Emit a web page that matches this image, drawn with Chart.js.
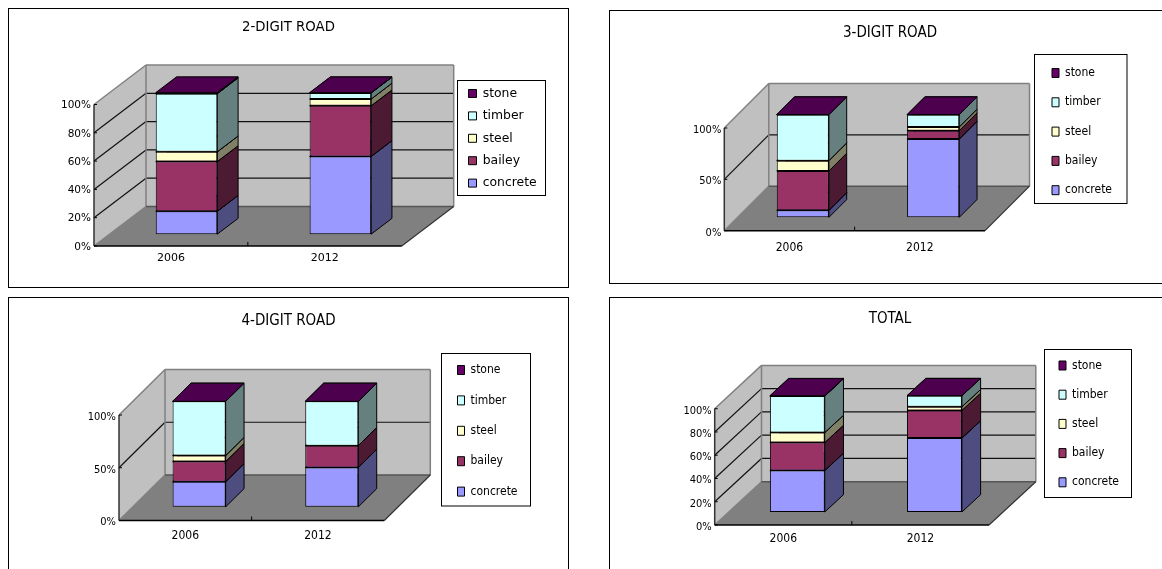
<!DOCTYPE html>
<html>
<head>
<meta charset="utf-8">
<title>Bridge type share by road class</title>
<script src="https://cdn.jsdelivr.net/npm/chart.js@4/dist/chart.umd.min.js"></script>
<style>
  html, body { margin: 0; padding: 0; background: #fff; width: 1162px; height: 569px; overflow: hidden; }
  .panel { position: absolute; box-sizing: border-box; border: 1px solid #000; background: #fff; }
  .panel canvas { position: absolute; left: -1px; top: -1px; }
</style>
</head>
<body>
<script>
// Survey years and bridge types, bottom of the stack first.
const categories = ['2006', '2012'];
const seriesNames = ['concrete', 'bailey', 'steel', 'timber', 'stone'];
const seriesColors = ['#9999FF', '#993366', '#FFFFCC', '#CCFFFF', '#660066'];
const sideColors = ['#4D4D80', '#4D1A33', '#808066', '#668080', '#330033'];
const topColors = ['#7373BF', '#732650', '#BFBF99', '#99BFBF', '#4D004D'];

// Share of bridges in percent: one row per bridge type, one column per year.
const twoDigitValues = [[16.2, 54.9], [35.1, 35.8], [6.9, 4.8], [41.1, 4.3], [0.7, 0.2]];
const threeDigitValues = [[6.8, 76.2], [38.3, 8.2], [10.1, 3.6], [44.8, 12.0], [0, 0]];
const fourDigitValues = [[23.8, 37.3], [19.1, 20.7], [5.7, 0], [51.4, 42.0], [0, 0]];
const totalValues = [[35.7, 63.6], [24.0, 23.7], [8.6, 3.2], [31.4, 9.5], [0.3, 0]];

const wide = "'DejaVu Sans', sans-serif";
const narrow = "'DejaVu Sans Condensed', 'Liberation Sans', sans-serif";

// Frame and plot geometry of each panel, in page pixels.
const panels = [
  { title: '2-DIGIT ROAD', values: twoDigitValues, step: 20,
    frame: [8, 8, 561, 280], plot: [94, 104.5, 401.7, 246], depth: [52, 39.5],
    titleY: 27.5, titleFont: [wide, 13.3], tickFont: [wide, 10.5], tickShift: 1, catFont: [wide, 11], catPad: 6,
    legendFont: [wide, 12.4], legendBox: [457.5, 80.5, 88, 115], legendMark: [468.5, 93.5], legendStep: 22.4, mark: [8, 8] },
  { title: '3-DIGIT ROAD', values: threeDigitValues, step: 50,
    frame: [609, 10, 562, 274], plot: [724.3, 128, 985, 230.7], depth: [44.5, 44.5],
    titleY: 33, titleFont: [narrow, 15], tickFont: [narrow, 11], tickShift: 2, catFont: [narrow, 12], catPad: 9.5,
    legendFont: [narrow, 12], legendBox: [1034.5, 54.5, 92.5, 149], legendMark: [1052, 73], legendStep: 29.3, mark: [7, 9] },
  { title: '4-DIGIT ROAD', values: fourDigitValues, step: 50,
    frame: [8, 297, 561, 290], plot: [119, 415, 384.3, 520.5], depth: [46, 45.5],
    titleY: 321, titleFont: [narrow, 15], tickFont: [narrow, 11], tickShift: 2, catFont: [narrow, 12], catPad: 8,
    legendFont: [narrow, 12], legendBox: [441.5, 353.5, 89, 152.5], legendMark: [457.5, 370], legendStep: 30.4, mark: [7, 9] },
  { title: 'TOTAL', values: totalValues, step: 20,
    frame: [609, 297, 562, 290], plot: [714.7, 408.7, 989, 525], depth: [46.8, 43.3],
    titleY: 319, titleFont: [narrow, 15], tickFont: [narrow, 11], tickShift: 2, catFont: [narrow, 12], catPad: 6.5,
    legendFont: [narrow, 12], legendBox: [1044.5, 349.5, 87, 148], legendMark: [1059, 365.5], legendStep: 29.2, mark: [7, 9] }
];

const WALL = '#C0C0C0', FLOOR = '#808080', EDGE = '#808080', INK = '#111';

function polygon(ctx, pts, fill, stroke, width) {
  ctx.beginPath();
  pts.forEach((p, i) => i ? ctx.lineTo(p[0], p[1]) : ctx.moveTo(p[0], p[1]));
  ctx.closePath();
  if (fill) { ctx.fillStyle = fill; ctx.fill(); }
  if (stroke) { ctx.strokeStyle = stroke; ctx.lineWidth = width || 1; ctx.stroke(); }
}

function segment(ctx, a, b, color, width) {
  ctx.beginPath();
  ctx.moveTo(a[0], a[1]);
  ctx.lineTo(b[0], b[1]);
  ctx.strokeStyle = color;
  ctx.lineWidth = width;
  ctx.stroke();
}

// Fake-3D box: walls, floor and gridlines follow the y scale, the side and top
// faces of the bars follow the bar elements, and the library draws the fronts.
const boxPlugin = {
  id: 'box3d',
  afterLayout(chart, args, opts) {
    const c = opts.cfg;
    const legend = chart.legend, title = chart.titleBlock;
    const size = c.legendFont[1];
    const pad = c.legendStep - size;
    legend.update(400, 400, { left: 0, right: 0, top: 0, bottom: 0 });
    const w = legend.width, h = legend.height;
    legend.left = c.legendMark[0] - c.frame[0] - pad;
    legend.right = legend.left + w;
    legend.top = c.legendMark[1] - c.frame[1] - size / 2 - pad;
    legend.bottom = legend.top + h;
    // The title is centred on the whole frame, not on the plot.
    title.left = 0;
    title.right = chart.width;
    title.width = chart.width;
  },
  beforeDraw(chart, args, opts) {
    const c = opts.cfg, ctx = chart.ctx;
    const b = c.legendBox;
    ctx.save();
    ctx.fillStyle = '#fff';
    ctx.strokeStyle = '#000';
    ctx.lineWidth = 1;
    ctx.fillRect(b[0] - c.frame[0], b[1] - c.frame[1], b[2], b[3]);
    ctx.strokeRect(b[0] - c.frame[0], b[1] - c.frame[1], b[2], b[3]);
    ctx.restore();
  },
  beforeDatasetsDraw(chart, args, opts) {
    const c = opts.cfg, ctx = chart.ctx;
    const { left: L, right: R, top: T, bottom: B } = chart.chartArea;
    const [dx, dy] = c.depth;
    const yScale = chart.scales.y, xScale = chart.scales.x;

    ctx.save();
    ctx.lineJoin = 'miter';
    polygon(ctx, [[L, B], [L + dx, B - dy], [L + dx, T - dy], [L, T]], WALL);
    polygon(ctx, [[L + dx, B - dy], [R + dx, B - dy], [R + dx, T - dy], [L + dx, T - dy]], WALL);
    polygon(ctx, [[L, B], [R, B], [R + dx, B - dy], [L + dx, B - dy]], FLOOR);

    yScale.ticks.forEach((t, i) => {
      const y = yScale.getPixelForTick(i);
      if (t.value === 0 || t.value === yScale.max) return;
      segment(ctx, [L, y], [L + dx, y - dy], INK, 1.2);
      segment(ctx, [L + dx, y - dy], [R + dx, y - dy], INK, 1.2);
    });

    segment(ctx, [L, T], [L + dx, T - dy], EDGE, 1.5);
    segment(ctx, [L + dx, T - dy], [R + dx, T - dy], EDGE, 1.5);
    segment(ctx, [R + dx, T - dy], [R + dx, B - dy], EDGE, 1.5);
    segment(ctx, [L + dx, T - dy], [L + dx, B - dy], EDGE, 1.5);
    segment(ctx, [L, B], [L + dx, B - dy], EDGE, 1.5);
    segment(ctx, [L + dx, B - dy], [R + dx, B - dy], '#555', 1.5);
    segment(ctx, [R, B], [R + dx, B - dy], '#333', 1.2);
    segment(ctx, [L, T], [L, B], '#333', 1.5);
    segment(ctx, [L, B], [R, B], '#000', 1.5);

    // Tick marks point into the plot on both axes.
    yScale.ticks.forEach((t, i) => {
      const y = yScale.getPixelForTick(i);
      segment(ctx, [L, y], [L + 3, y], '#000', 1);
    });
    categories.forEach((name, i) => {
      if (i === 0) return;
      const x = (xScale.getPixelForValue(i - 1) + xScale.getPixelForValue(i)) / 2;
      segment(ctx, [x, B], [x, B - 4], '#000', 1);
    });

    // Side and top faces, stacked from the ground up.
    const fx = 0.3 * dx, fy = 0.3 * dy, sx = 0.4 * dx, sy = 0.4 * dy;
    chart.data.datasets.forEach((ds, d) => {
      chart.getDatasetMeta(d).data.forEach(bar => {
        const x1 = bar.x + bar.width / 2 + fx, x0 = bar.x - bar.width / 2 + fx;
        const top = bar.y - fy, base = bar.base - fy;
        if (base - top > 0.01) {
          polygon(ctx, [[x1, base], [x1 + sx, base - sy], [x1 + sx, top - sy], [x1, top]], sideColors[d], '#000', 1);
        }
        polygon(ctx, [[x0, top], [x1, top], [x1 + sx, top - sy], [x0 + sx, top - sy]], topColors[d], '#000', 1);
      });
    });
    ctx.restore();

    // Bar fronts stand partway into the floor.
    ctx.save();
    ctx.translate(fx, -fy);
  },
  afterDatasetsDraw(chart) {
    chart.ctx.restore();
  }
};

panels.forEach(c => {
  const [fx, fy, fw, fh] = c.frame;
  const [pl, pt, pr, pb] = c.plot;
  const div = document.createElement('div');
  div.className = 'panel';
  div.style.cssText = `left:${fx}px;top:${fy}px;width:${fw}px;height:${fh}px`;
  const canvas = document.createElement('canvas');
  canvas.width = fw;
  canvas.height = fh;
  canvas.style.width = fw + 'px';
  canvas.style.height = fh + 'px';
  div.appendChild(canvas);
  document.body.appendChild(div);

  const titleLine = c.titleFont[1] * 1.2;
  const titleTop = c.titleY - fy - titleLine / 2;

  new Chart(canvas, {
    type: 'bar',
    data: {
      labels: categories,
      datasets: seriesNames.map((name, i) => ({
        label: name,
        data: c.values[i],
        backgroundColor: seriesColors[i],
        borderColor: '#000',
        borderWidth: 1,
        borderSkipped: false,
        barPercentage: 0.4,
        categoryPercentage: 1,
        clip: false
      }))
    },
    options: {
      responsive: false,
      animation: false,
      layout: { padding: { left: 0, top: 0, bottom: 0, right: fw - (pr - fx) } },
      plugins: {
        tooltip: { enabled: false },
        title: {
          display: true,
          text: c.title,
          color: '#000',
          font: { family: c.titleFont[0], size: c.titleFont[1], weight: 'normal' },
          padding: { top: titleTop, bottom: pt - fy - titleTop - titleLine }
        },
        legend: {
          position: 'chartArea',
          align: 'start',
          reverse: true,
          labels: {
            color: '#000',
            font: { family: c.legendFont[0], size: c.legendFont[1] },
            boxWidth: c.mark[0],
            boxHeight: c.mark[1],
            padding: c.legendStep - c.legendFont[1]
          }
        },
        box3d: { cfg: c }
      },
      scales: {
        x: {
          stacked: true,
          grid: { display: false, drawTicks: false },
          border: { display: false },
          ticks: {
            color: '#000',
            padding: c.catPad,
            maxRotation: 0,
            font: { family: c.catFont[0], size: c.catFont[1] }
          },
          afterFit: s => { s.height = fh - (pb - fy); }
        },
        y: {
          stacked: true,
          min: 0,
          max: 100,
          grid: { display: false, drawTicks: false },
          border: { display: false },
          ticks: {
            color: '#000',
            padding: 3,
            stepSize: c.step,
            labelOffset: c.tickShift,
            callback: v => v + '%',
            font: { family: c.tickFont[0], size: c.tickFont[1] }
          },
          afterFit: s => { s.width = pl - fx; }
        }
      }
    },
    plugins: [boxPlugin]
  });
});
</script>
</body>
</html>
